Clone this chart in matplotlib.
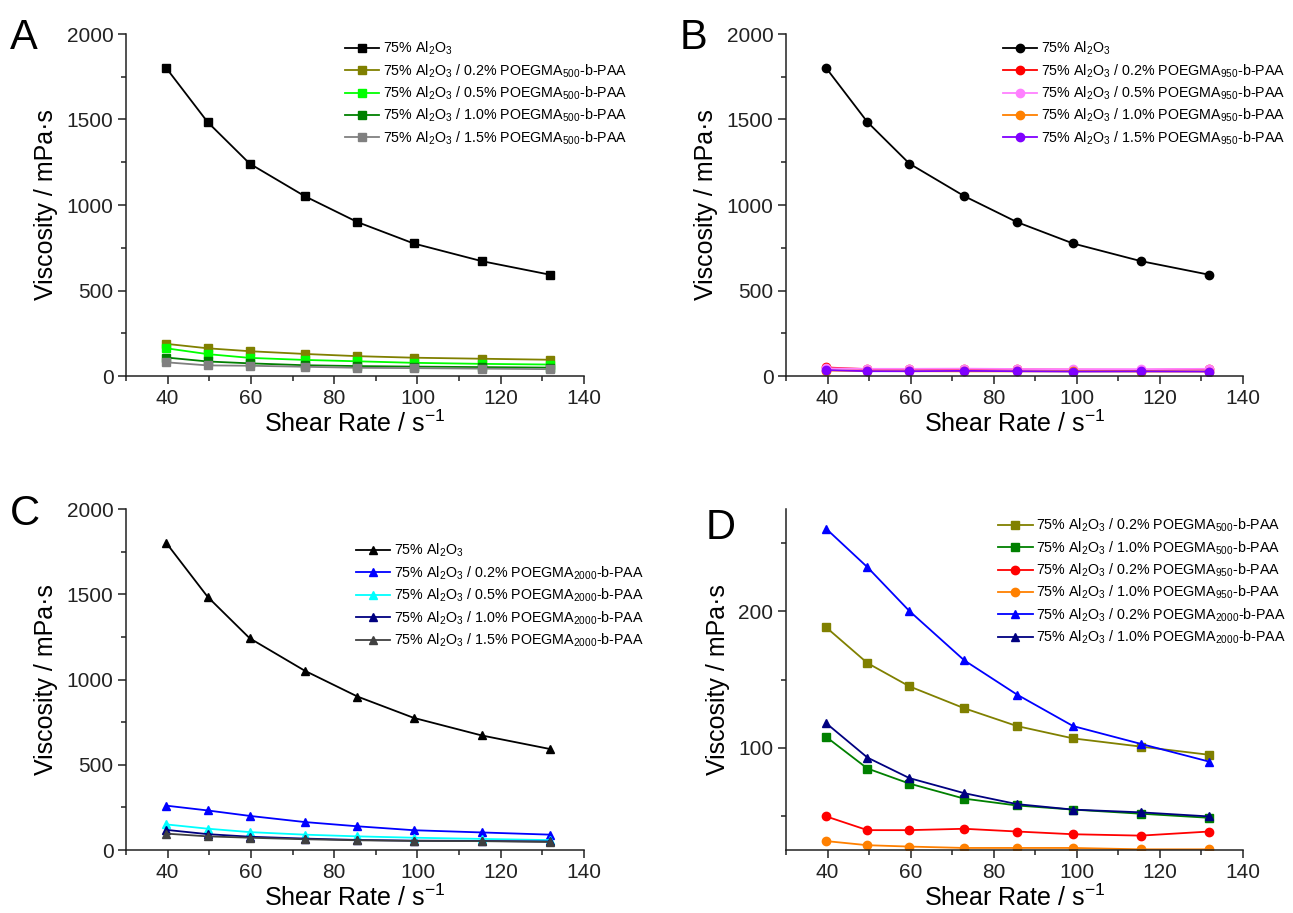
import matplotlib
matplotlib.use('Agg')
import matplotlib.pyplot as plt
from matplotlib.ticker import MultipleLocator

plt.rcParams['font.family'] = ['Liberation Sans', 'DejaVu Sans']
plt.rcParams['mathtext.fontset'] = 'custom'
plt.rcParams['mathtext.rm'] = 'Liberation Sans'
plt.rcParams['mathtext.it'] = 'Liberation Sans:italic'
plt.rcParams['mathtext.bf'] = 'Liberation Sans:bold'

# ---------------------------------------------------------------------------
# Data
# ---------------------------------------------------------------------------
shear_rate = [39.7, 49.6, 59.7, 72.9, 85.6, 99.1, 115.4, 131.9]

al2o3 = [1800, 1485, 1242, 1052, 900, 775, 672, 592]

p500_02 = [188, 162, 145, 129, 116, 107, 101, 95]
p500_05 = [162, 128, 106, 94, 86, 77, 71, 67]
p500_10 = [108, 85, 74, 63, 58, 55, 52, 49]
p500_15 = [80, 62, 60, 54, 48, 46, 43, 40]

p950_02 = [50, 40, 40, 41, 39, 37, 36, 39]
p950_05 = [45, 42, 42, 43, 41, 40, 40, 42]
p950_10 = [32, 29, 28, 27, 27, 27, 26, 26]
p950_15 = [35, 28, 28, 30, 28, 26, 27, 26]

p2000_02 = [260, 232, 200, 164, 139, 116, 103, 90]
p2000_05 = [150, 125, 105, 90, 80, 72, 65, 58]
p2000_10 = [118, 93, 78, 67, 59, 55, 53, 50]
p2000_15 = [96, 80, 72, 63, 57, 53, 52, 47]

BASE = r'75% Al$_2$O$_3$'


def label(pct, mw):
    return BASE + r' / %s%% POEGMA$_{%s}$-b-PAA' % (pct, mw)


def style_axes(ax, ylim, ymajor, yminor):
    ax.set_xlim(30, 140)
    ax.set_ylim(*ylim)
    ax.xaxis.set_major_locator(MultipleLocator(20))
    ax.xaxis.set_minor_locator(MultipleLocator(10))
    ax.yaxis.set_major_locator(MultipleLocator(ymajor))
    ax.yaxis.set_minor_locator(MultipleLocator(yminor))
    ax.spines['top'].set_visible(False)
    ax.spines['right'].set_visible(False)
    for s in ('left', 'bottom'):
        ax.spines[s].set_linewidth(1.1)
        ax.spines[s].set_color('#222222')
    ax.tick_params(which='major', direction='out', length=6, width=1.1,
                   labelsize=15, colors='#222222', pad=3)
    ax.tick_params(which='minor', direction='out', length=3.5, width=1.1,
                   colors='#222222')
    ax.set_xlabel(r'Shear Rate / s$^{-1}$', fontsize=18, labelpad=2)
    ax.set_ylabel('Viscosity / mPa\u00b7s', fontsize=18, labelpad=6)


def add_legend(ax, anchor):
    ax.legend(loc='upper left', bbox_to_anchor=anchor, frameon=False,
              fontsize=10.3, handlelength=2.4, handletextpad=0.25,
              labelspacing=0.35, borderaxespad=0)


W, H = 12.93, 9.13
fig = plt.figure(figsize=(W, H), dpi=100)

pos = {
    'A': [126 / 1293, 1 - 376 / 913, 458 / 1293, 342 / 913],
    'B': [786 / 1293, 1 - 376 / 913, 457 / 1293, 342 / 913],
    'C': [126 / 1293, 1 - 850 / 913, 458 / 1293, 341 / 913],
    'D': [786 / 1293, 1 - 850 / 913, 457 / 1293, 341 / 913],
}

kw = dict(linewidth=1.3, markersize=6)

# Panel A
ax = fig.add_axes(pos['A'])
ax.plot(shear_rate, al2o3, 's-', color='black', label=BASE, **kw)
ax.plot(shear_rate, p500_02, 's-', color='#808000', label=label('0.2', '500'), **kw)
ax.plot(shear_rate, p500_05, 's-', color='#00ff00', label=label('0.5', '500'), **kw)
ax.plot(shear_rate, p500_10, 's-', color='#008000', label=label('1.0', '500'), **kw)
ax.plot(shear_rate, p500_15, 's-', color='#808080', label=label('1.5', '500'), **kw)
style_axes(ax, (0, 2000), 500, 250)
add_legend(ax, (0.465, 1.0))

# Panel B
ax = fig.add_axes(pos['B'])
ax.plot(shear_rate, al2o3, 'o-', color='black', label=BASE, **kw)
ax.plot(shear_rate, p950_02, 'o-', color='#ff0000', label=label('0.2', '950'), **kw)
ax.plot(shear_rate, p950_05, 'o-', color='#ff80ff', label=label('0.5', '950'), **kw)
ax.plot(shear_rate, p950_10, 'o-', color='#ff8000', label=label('1.0', '950'), **kw)
ax.plot(shear_rate, p950_15, 'o-', color='#8000ff', label=label('1.5', '950'), **kw)
style_axes(ax, (0, 2000), 500, 250)
add_legend(ax, (0.462, 1.0))

# Panel C
ax = fig.add_axes(pos['C'])
ax.plot(shear_rate, al2o3, '^-', color='black', label=BASE, **kw)
ax.plot(shear_rate, p2000_02, '^-', color='#0000ff', label=label('0.2', '2000'), **kw)
ax.plot(shear_rate, p2000_05, '^-', color='#00ffff', label=label('0.5', '2000'), **kw)
ax.plot(shear_rate, p2000_10, '^-', color='#000080', label=label('1.0', '2000'), **kw)
ax.plot(shear_rate, p2000_15, '^-', color='#404040', label=label('1.5', '2000'), **kw)
style_axes(ax, (0, 2000), 500, 250)
add_legend(ax, (0.49, 0.92))

# Panel D
ax = fig.add_axes(pos['D'])
ax.plot(shear_rate, p500_02, 's-', color='#808000', label=label('0.2', '500'), **kw)
ax.plot(shear_rate, p500_10, 's-', color='#008000', label=label('1.0', '500'), **kw)
ax.plot(shear_rate, p950_02, 'o-', color='#ff0000', label=label('0.2', '950'), **kw)
ax.plot(shear_rate, p950_10, 'o-', color='#ff8000', label=label('1.0', '950'), **kw)
ax.plot(shear_rate, p2000_02, '^-', color='#0000ff', label=label('0.2', '2000'), **kw)
ax.plot(shear_rate, p2000_10, '^-', color='#000080', label=label('1.0', '2000'), **kw)
style_axes(ax, (25.5, 274.5), 100, 50)
add_legend(ax, (0.452, 0.994))

# Panel letters
for letter, x, y in [('A', 10, 18), ('B', 680, 18), ('C', 10, 494), ('D', 706, 508)]:
    fig.text(x / 1293, 1 - y / 913, letter, fontsize=30, ha='left', va='top')

fig.savefig('out.png', dpi=100)
